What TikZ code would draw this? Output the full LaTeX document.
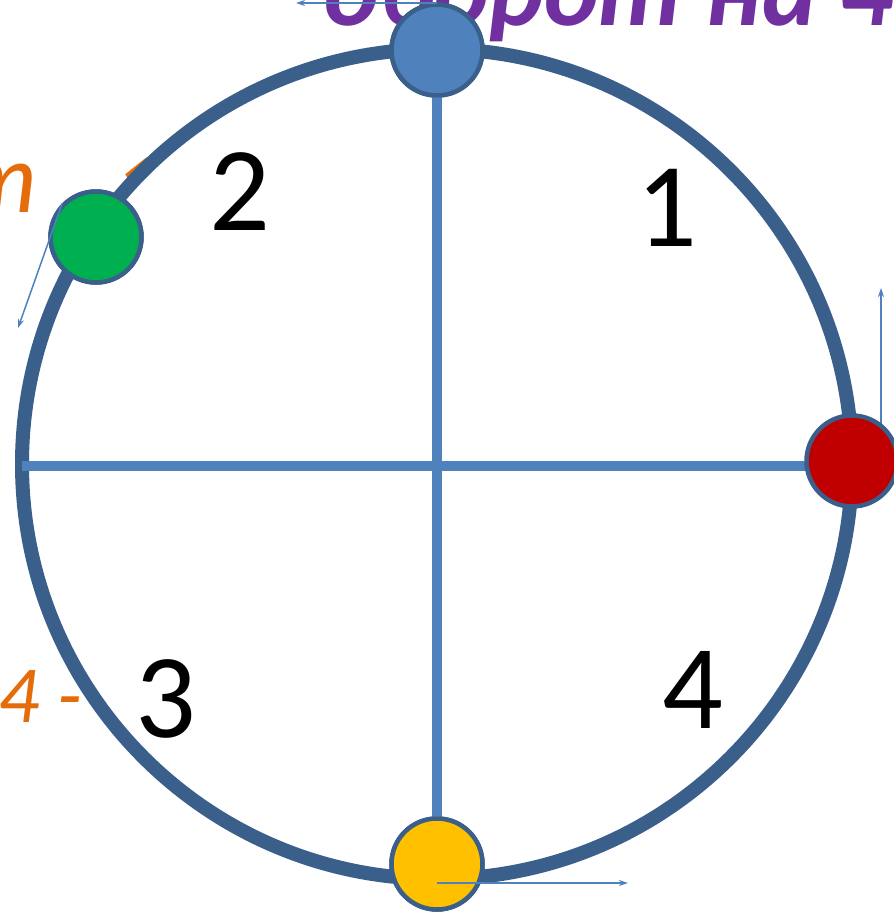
\documentclass[tikz,border=0pt]{standalone}
\usepackage{fontspec}
\setmainfont{Carlito}
\usetikzlibrary{arrows.meta, calc}
\definecolor{ringblue}{RGB}{58,95,139}
\definecolor{axisblue}{RGB}{79,129,189}
\definecolor{ptgreen}{RGB}{0,176,80}
\definecolor{ptred}{RGB}{192,0,0}
\definecolor{ptyellow}{RGB}{255,192,0}
\definecolor{titlepurple}{RGB}{112,48,160}
\definecolor{noteorange}{RGB}{228,108,10}
\tikzset{
  ring/.style={draw=ringblue, line width=14pt, fill=white},
  axis/.style={draw=axisblue, line width=10pt},
  dot/.style={circle, draw=ringblue, line width=4.5pt, minimum size=91pt, inner sep=0pt},
  vec/.style={-{Stealth[length=9pt,width=6pt]}, draw=axisblue, line width=1.5pt},
  quarter/.style={inner sep=0pt, font=\fontsize{120}{120}\selectfont},
  note/.style={inner sep=0pt, anchor=base west, text=noteorange, font=\itshape}
}

\begin{document}
\begin{tikzpicture}[x=1pt, y=-1pt]

\useasboundingbox (0,0) rectangle (894,914);
\clip (0,0) rectangle (894,914);

% title and notes, partly hidden
\node[inner sep=0pt, anchor=base west, text=titlepurple, font=\bfseries\itshape\fontsize{104}{104}\selectfont] (title) at (324,25) {оборот на 4};
\node[note, font=\itshape\fontsize{100}{100}\selectfont] (n1) at (-41,212) {т\hspace{52pt} \raisebox{-10pt}{1}};
\node[note, font=\itshape\fontsize{81}{81}\selectfont] (n2) at (-2,722) {4 -};

% circle and axes
\draw[ring] (437,464) circle (415);
\coordinate (west) at (22,466);

\node[dot, fill=axisblue] (top) at (437,50) {};
\node[dot, fill=ptgreen] (green) at (96,237) {};
\node[dot, fill=ptyellow] (bottom) at (437,864) {};

\draw[axis] (top) -- (bottom);
\draw[axis] (west) -- (852,466);

\node[quarter] (q1) at (667,208) {1};
\node[quarter] (q2) at (240,192) {2};
\node[quarter] (q3) at (166,699) {3};
\node[quarter] (q4) at (693,690) {4};

\coordinate (vtop) at (296,3);
\coordinate (vgreen) at (18,328);
\coordinate (vred) at (881,288);
\coordinate (vbottom) at (628,883);

\draw[vec] ($(852,461)+(29,0)$) -- (vred);
\node[dot, fill=ptred] (red) at (852,461) {};
\node[dot, fill=axisblue] at (top) {};
\node[dot, fill=ptyellow] at (bottom) {};
\node[dot, fill=ptgreen] at (green) {};

\draw[vec] ($(top.center)+(0,-47)$) -- (vtop);
\draw[vec] (green.135) -- (vgreen);
\draw[vec] ($(bottom.center)+(0,19)$) -- (vbottom);

\end{tikzpicture}
\end{document}
